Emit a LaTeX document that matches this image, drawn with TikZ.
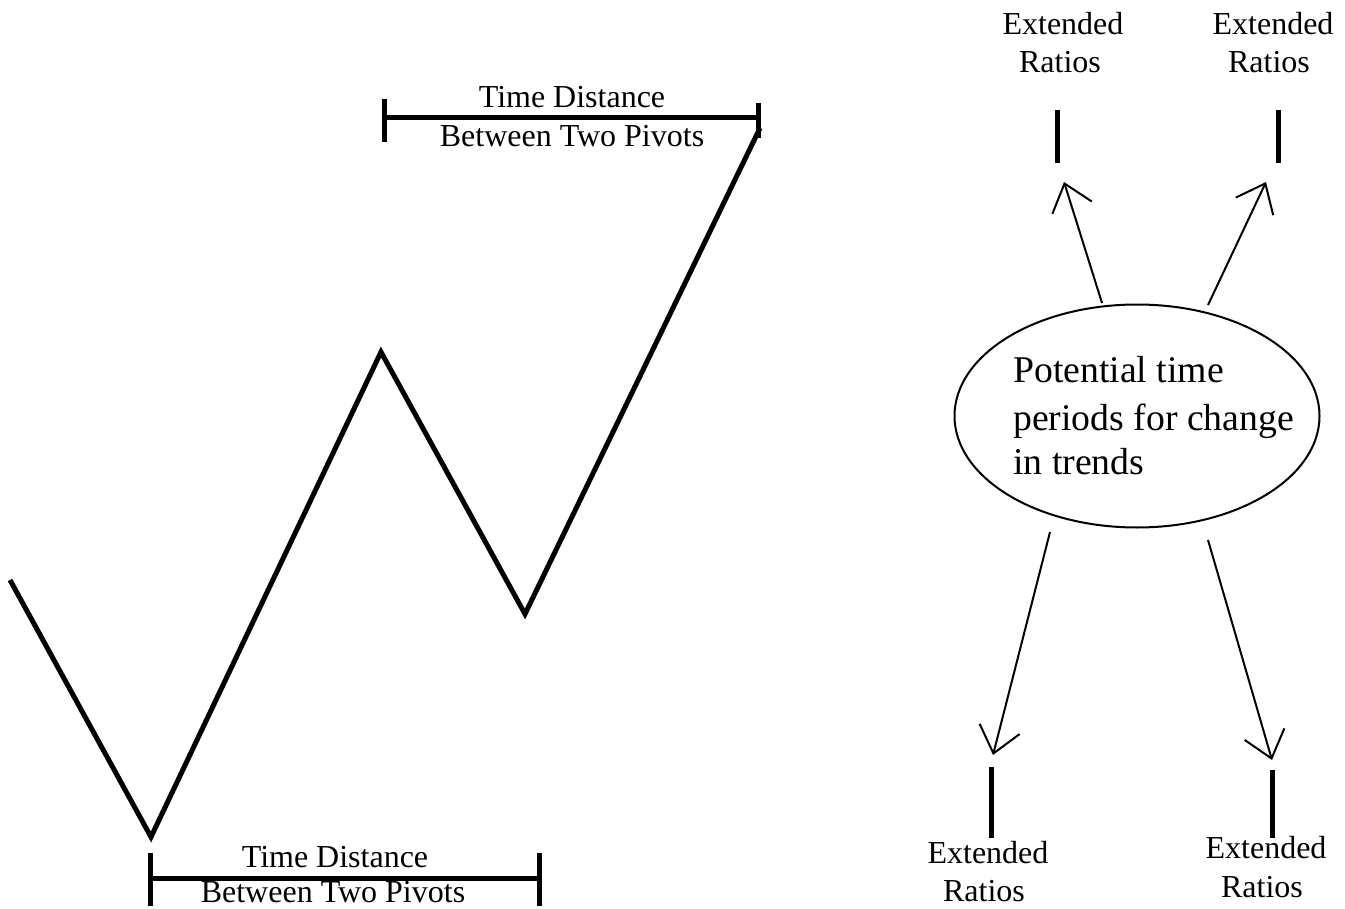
\documentclass[tikz,border=0pt]{standalone}
\usepackage{fontspec}
\setmainfont{Liberation Serif}
\usetikzlibrary{shapes.geometric,arrows.meta}
\begin{document}
\begin{tikzpicture}[x=0.75pt,y=-0.75pt,
  zig/.style={line width=3.75pt, line join=miter},
  bar/.style={line width=3.75pt},
  lbl/.style={font=\fontsize{24pt}{28pt}\selectfont, inner sep=0pt, anchor=base},
  big/.style={font=\fontsize{28.3pt}{34pt}\selectfont, inner sep=0pt, anchor=base west},
  conn/.style={line width=1.5pt, -{Straight Barb[length=19pt,width=31pt]}},
  ]
\useasboundingbox (0,0) rectangle (1345,909);

% zigzag price path
\coordinate (z0) at (10,580);
\coordinate (z1) at (151,837);
\coordinate (z2) at (381,352);
\coordinate (z3) at (525,614);
\coordinate (z4) at (760,128);
\draw[zig] (z0) -- (z1) -- (z2) -- (z3) -- (z4);

% top time-distance bar
\coordinate (ta) at (384,118);
\coordinate (tb) at (758,118);
\draw[bar] (ta) -- (tb);
\draw[bar] ([yshift=-18]ta) -- ([yshift=14]ta);
\draw[bar] ([yshift=-15]tb) -- ([yshift=11]tb);
\node[lbl] (t1) at (572,108) {Time Distance};
\node[lbl] (t2) at (572,147) {Between Two Pivots};

% bottom time-distance bar
\coordinate (ba) at (150,878);
\coordinate (bb) at (539,878);
\draw[bar] (ba) -- (bb);
\draw[bar] ([yshift=-21]ba) -- ([yshift=19]ba);
\draw[bar] ([yshift=-21]bb) -- ([yshift=19]bb);
\node[lbl] (b1) at (335,867) {Time Distance};
\node[lbl] (b2) at (333,902) {Between Two Pivots};

% ellipse
\node[draw, ellipse, line width=1.5pt, minimum width=273.75pt, minimum height=167.25pt, inner sep=0pt] (ell) at (1137,416) {};
\node[big] (e1) at (1013,382) {Potential time};
\node[big] (e2) at (1013,430) {periods for change};
\node[big] (e3) at (1013,474) {in trends};

% extended ratios labels
\node[lbl] (r1a) at (1063,35) {Extended};
\node[lbl] (r1b) at (1060,73) {Ratios};
\node[lbl] (r2a) at (1273,35) {Extended};
\node[lbl] (r2b) at (1269,73) {Ratios};
\node[lbl] (r3a) at (988,863) {Extended};
\node[lbl] (r3b) at (984,901) {Ratios};
\node[lbl] (r4a) at (1266,858) {Extended};
\node[lbl] (r4b) at (1262,897) {Ratios};

% vertical marks
\draw[bar] (1057,110) -- (1057,163);
\draw[bar] (1278,110) -- (1278,163);
\draw[bar] (991,767) -- (991,838);
\draw[bar] (1272,770) -- (1272,838);

% arrow endpoints
\coordinate (s1) at (1102,303); \coordinate (p1) at (1064,182);
\coordinate (s2) at (1208,305); \coordinate (p2) at (1266,182);
\coordinate (s3) at (1050,532); \coordinate (p3) at (993,755);
\coordinate (s4) at (1208,540); \coordinate (p4) at (1272,760);
\draw[conn] (s1) -- (p1);
\draw[conn] (s2) -- (p2);
\draw[conn] (s3) -- (p3);
\draw[conn] (s4) -- (p4);
\end{tikzpicture}
\end{document}
